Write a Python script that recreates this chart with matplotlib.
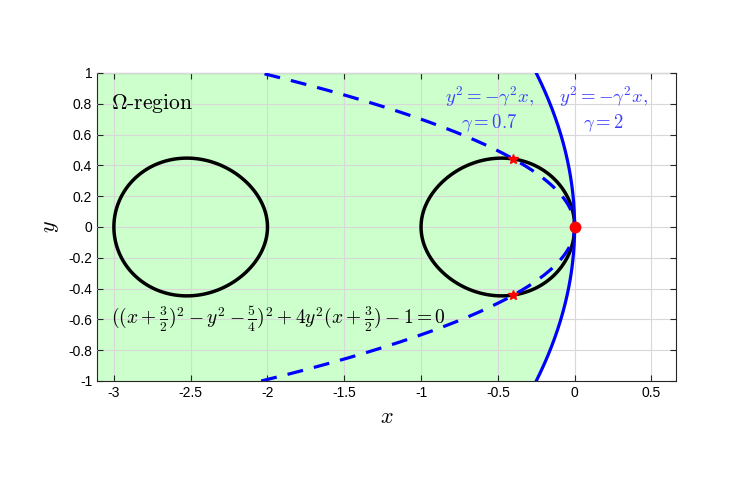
import numpy as np
import matplotlib.pyplot as plt

plt.rcParams['font.family'] = ['Liberation Sans', 'DejaVu Sans']
plt.rcParams['mathtext.fontset'] = 'cm'

# parametros de las parabolas y^2 = -gamma^2 x
gammas = [0.7, 2]
# ovalo: ((x+3/2)^2 - y^2 - 5/4)^2 + 4y^2(x+3/2)^2 - 1 = 0
shift = 1.5
c_const = 1.25
# puntos marcados (interseccion y origen)
star_x = [-0.40, -0.40]
star_y = [0.443, -0.443]
origin_x = [0.0]
origin_y = [0.0]

x_lim = (-3.11, 0.66)
y_lim = (-1, 1)

fig = plt.figure(figsize=(7.46, 4.82), dpi=100)
ax = fig.add_axes([97 / 746, 1 - 381 / 482, 579 / 746, 308 / 482])

y = np.linspace(-1, 1, 801)

# region Omega (izquierda de la parabola gamma=2)
ax.fill_betweenx(y, x_lim[0], -y**2 / gammas[1]**2, color='#ccffcc', zorder=0)

# ovalo
xg = np.linspace(-3.2, 0.2, 900)
yg = np.linspace(-0.6, 0.6, 500)
X, Y = np.meshgrid(xg, yg)
U = X + shift
F = (U**2 - Y**2 - c_const)**2 + 4 * Y**2 * U**2 - 1
ax.contour(X, Y, F, levels=[0], colors='black', linewidths=2.5, zorder=3)

# parabolas
ax.plot(-y**2 / gammas[0]**2, y, '--', color='#0000ff', lw=2.3, dashes=(5, 3.5), zorder=4)
ax.plot(-y**2 / gammas[1]**2, y, '-', color='#0000ff', lw=2.3, zorder=4)

ax.plot(star_x, star_y, '*', color='red', ms=7, zorder=5)
ax.plot(origin_x, origin_y, 'o', color='red', ms=7.5, zorder=5)

# textos
ax.text(-3.02, 0.8, r'$\Omega$-region', fontsize=15.5, family='cmr10',
        va='center', ha='left')
ax.text(-3.02, -0.6, r'$((x+\frac{3}{2})^2-y^2-\frac{5}{4})^2+4y^2(x+\frac{3}{2})-1=0$',
        fontsize=14, va='center', ha='left')
blue_txt = '#4040ff'
ax.text(-0.555, 0.845, r'$y^2=-\gamma^2 x,$', fontsize=13.5, color=blue_txt, ha='center', va='center')
ax.text(-0.555, 0.675, r'$\gamma=0.7$', fontsize=13.5, color=blue_txt, ha='center', va='center')
ax.text(0.19, 0.845, r'$y^2=-\gamma^2 x,$', fontsize=13.5, color=blue_txt, ha='center', va='center')
ax.text(0.19, 0.675, r'$\gamma=2$', fontsize=13.5, color=blue_txt, ha='center', va='center')

ax.set_xlim(*x_lim)
ax.set_ylim(*y_lim)
ax.set_xticks([-3, -2.5, -2, -1.5, -1, -0.5, 0, 0.5])
ax.set_xticklabels(['-3', '-2.5', '-2', '-1.5', '-1', '-0.5', '0', '0.5'])
ax.set_yticks(np.round(np.arange(-1, 1.01, 0.2), 1))
ax.set_yticklabels(['-1', '-0.8', '-0.6', '-0.4', '-0.2', '0', '0.2', '0.4', '0.6', '0.8', '1'])
ax.tick_params(direction='in', top=True, right=True, labelsize=10, color='#262626', length=4)
ax.grid(True, color='#d8d8d8', lw=0.8)
ax.set_axisbelow(False)
for s in ax.spines.values():
    s.set_color('#262626')
    s.set_linewidth(0.8)

ax.set_xlabel(r'$x$', fontsize=16, labelpad=5)
ax.set_ylabel(r'$y$', fontsize=16, labelpad=5)

fig.savefig('out.png', dpi=100)
